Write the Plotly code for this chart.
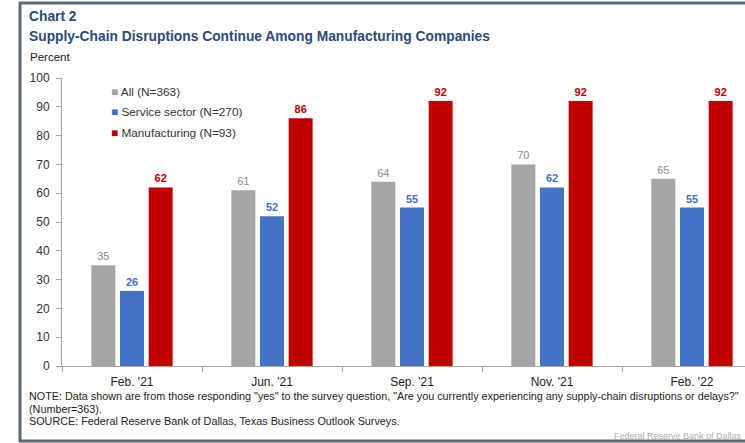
import plotly.graph_objects as go

# Survey rounds and share of firms reporting supply-chain disruptions (%)
categories = ["Feb. '21", "Jun. '21", "Sep. '21", "Nov. '21", "Feb. '22"]
all_firms = [35, 61, 64, 70, 65]
service_sector = [26, 52, 55, 62, 55]
manufacturing = [62, 86, 92, 92, 92]

series_names = ["All (N=363)", "Service sector (N=270)", "Manufacturing (N=93)"]
y_ticks = [0, 10, 20, 30, 40, 50, 60, 70, 80, 90, 100]

GRAY = "#a5a5a5"
BLUE = "#4472c4"
RED = "#c00000"
TITLE_BLUE = "#2c4a78"
FONT = "Arial, Liberation Sans, sans-serif"

W, H = 745, 443
M_L, M_R, M_T, M_B = 62, 0, 78, 77
PLOT_W = W - M_L - M_R
PLOT_H = H - M_T - M_B


def px_x(x):
    return (x - M_L) / PLOT_W


def px_y(y):
    return (H - M_B - y) / PLOT_H


fig = go.Figure()
series = [
    (series_names[0], all_firms, GRAY, "#8c8c8c", False),
    (series_names[1], service_sector, BLUE, BLUE, True),
    (series_names[2], manufacturing, RED, RED, True),
]
for name, vals, color, label_color, bold in series:
    fig.add_trace(
        go.Bar(
            name=name,
            x=categories,
            y=vals,
            marker=dict(color=color, line=dict(width=0)),
            text=[f"<b>{v}</b>" if bold else str(v) for v in vals],
            texttemplate="%{text}",
            textposition="outside",
            textfont=dict(family=FONT, size=11, color=label_color),
            cliponaxis=False,
            showlegend=False,
        )
    )

# category spacing: 140px per slot shows ~4.9 groups across the plot width
x_span = PLOT_W / 140.0

fig.update_layout(
    width=W,
    height=H,
    margin=dict(l=M_L, r=M_R, t=M_T, b=M_B),
    paper_bgcolor="white",
    plot_bgcolor="white",
    barmode="group",
    bargap=0.386,
    bargroupgap=0.163,
    font=dict(family=FONT, color="#222222"),
    xaxis=dict(
        range=[-0.5, -0.5 + x_span],
        showgrid=False,
        showline=True,
        linecolor="#a6a6a6",
        linewidth=1,
        ticks="outside",
        tickson="boundaries",
        ticklen=5,
        tickcolor="#a6a6a6",
        ticklabelstandoff=5,
        tickfont=dict(family=FONT, size=12, color="#222222"),
        zeroline=False,
    ),
    yaxis=dict(
        range=[0, 100],
        tickvals=y_ticks,
        showgrid=False,
        showline=True,
        linecolor="#a6a6a6",
        linewidth=1,
        ticks="outside",
        ticklen=5,
        tickcolor="#a6a6a6",
        ticklabelstandoff=4,
        tickfont=dict(family=FONT, size=12, color="#333333"),
        zeroline=False,
    ),
)

annotations = []


def add_text(text, x, y, size, color, xanchor="left", bold=False):
    annotations.append(
        dict(
            text=f"<b>{text}</b>" if bold else text,
            x=px_x(x),
            y=px_y(y),
            xref="paper",
            yref="paper",
            xanchor=xanchor,
            yanchor="middle",
            showarrow=False,
            font=dict(family=FONT, size=size, color=color),
        )
    )


add_text("Chart 2", 27, 17, 13.8, TITLE_BLUE, bold=True)
add_text("Supply-Chain Disruptions Continue Among Manufacturing Companies", 27, 37, 13.8, TITLE_BLUE, bold=True)
add_text("Percent", 28, 57, 11.5, "#222222")

# legend entries
legend_colors = [GRAY, BLUE, RED]
for i, (name, color) in enumerate(zip(series_names, legend_colors)):
    add_text(f'<span style="color:{color}">■</span> {name}', 109, 92 + i * 20.5, 11.8, "#333333")

# footnotes
add_text(
    'NOTE: Data shown are from those responding "yes" to the survey question, '
    '"Are you currently experiencing any supply-chain disruptions or delays?"',
    27, 396, 10.8, "#222222",
)
add_text("(Number=363).", 27, 408.5, 10.8, "#222222")
add_text("SOURCE: Federal Reserve Bank of Dallas, Texas Business Outlook Surveys.", 27, 421, 10.8, "#222222")
add_text("Federal Reserve Bank of Dallas", 744, 436, 9, "#b0b0b0", xanchor="right")

fig.update_layout(annotations=annotations)

# frame around the exhibit
frame = "#5d6877"
fig.update_layout(
    shapes=[
        dict(type="line", xref="paper", yref="paper", x0=px_x(20), x1=px_x(20), y0=px_y(2), y1=px_y(442),
             line=dict(color=frame, width=3)),
        dict(type="line", xref="paper", yref="paper", x0=px_x(19), x1=px_x(760), y0=px_y(3), y1=px_y(3),
             line=dict(color=frame, width=3)),
        dict(type="line", xref="paper", yref="paper", x0=px_x(19), x1=px_x(760), y0=px_y(441), y1=px_y(441),
             line=dict(color=frame, width=3)),
    ]
)

fig.write_html("out.html")
